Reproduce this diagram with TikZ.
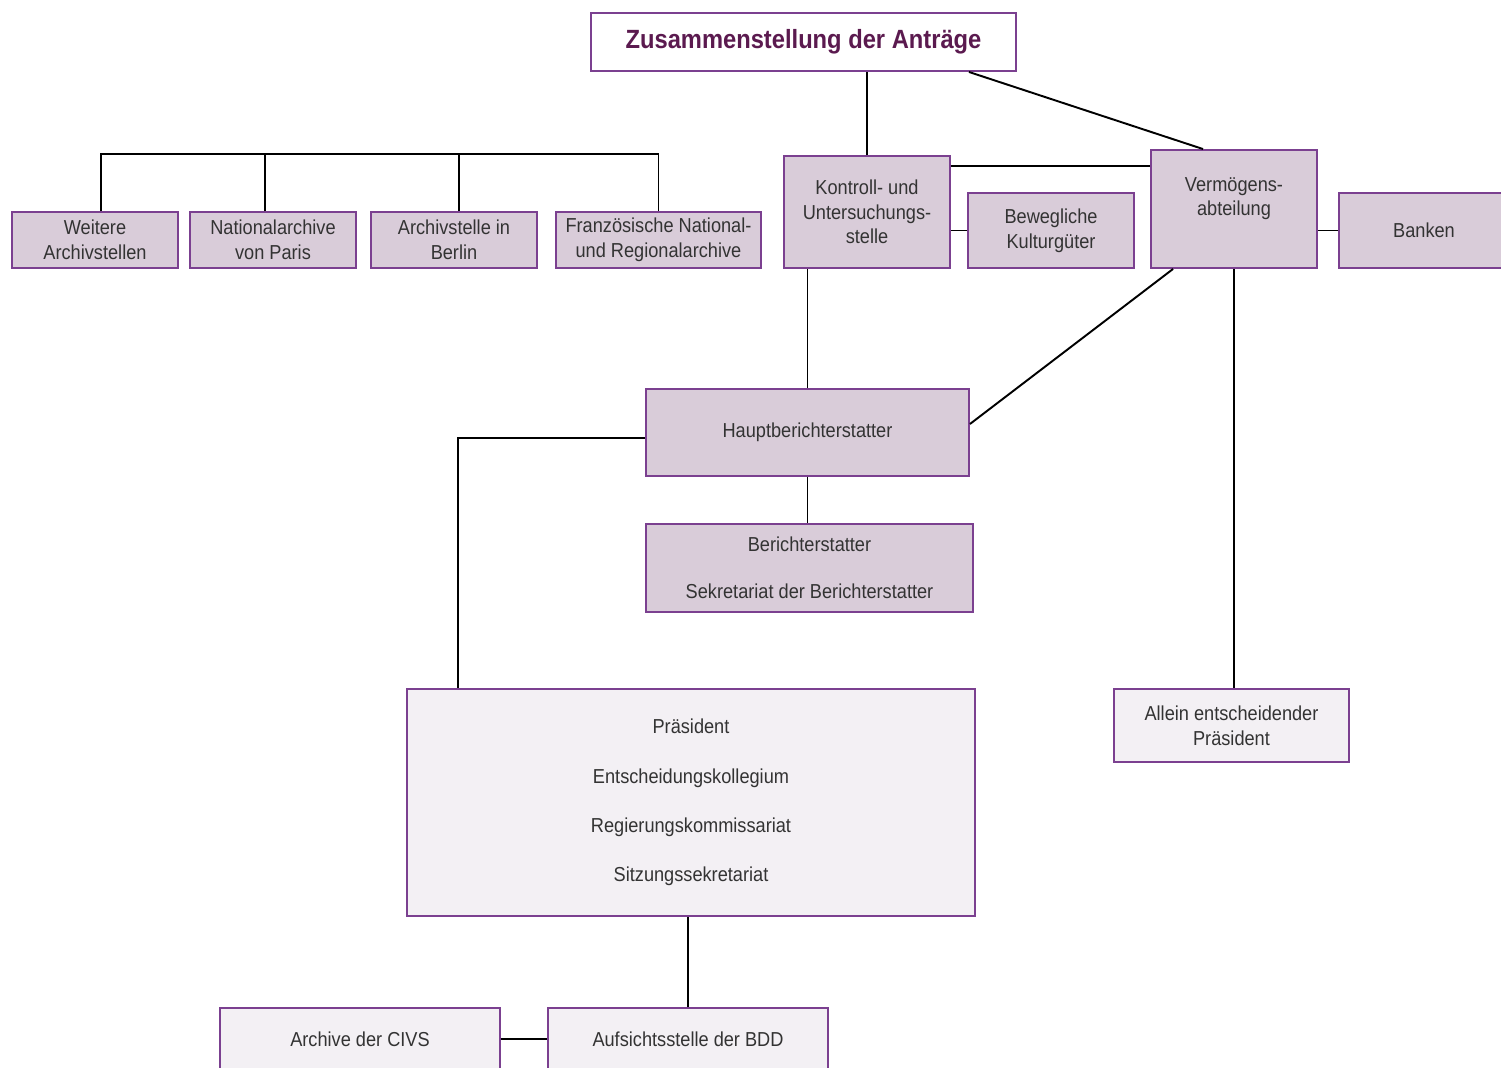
\documentclass[tikz,border=0pt]{standalone}
\usepackage{fontspec}
\setmainfont{Liberation Sans}[FakeStretch=0.9]
\definecolor{boxline}{HTML}{7B4090}
\definecolor{boxfill}{HTML}{D9CCD9}
\definecolor{boxlight}{HTML}{F3F0F4}
\definecolor{textgray}{HTML}{333333}
\definecolor{titlecol}{HTML}{5B1A4F}
\tikzset{
  org/.style={draw=boxline, line width=1.1pt, fill=boxfill, text=textgray,
    align=center, inner sep=2pt, font=\fontsize{11.5}{14}\selectfont},
  orglight/.style={org, fill=boxlight},
  link/.style={line width=1.1pt, black}
}
\begin{document}
\begin{tikzpicture}[x=0.02cm, y=-0.02cm]
      \useasboundingbox (0,0) rectangle (1501,1068);
      \clip (0,0) rectangle (1501,1068);
      \node[org, fill=white, text=titlecol, font=\fontsize{15}{18}\bfseries,
        minimum width=8.5cm, minimum height=1.16cm] (titel) at (803.5,42) {Zusammenstellung der Antr\"age};
      \node[org, minimum width=3.32cm, minimum height=1.12cm] (weitere) at (95,240) {Weitere\\Archivstellen};
      \node[org, minimum width=3.32cm, minimum height=1.12cm] (natarch) at (273,240) {Nationalarchive\\von Paris};
      \node[org, minimum width=3.32cm, minimum height=1.12cm] (berlin) at (454,240) {Archivstelle in\\Berlin};
      \node[org, minimum width=4.1cm, minimum height=1.12cm] (franz) at (658.5,240) {Franz\"osische National-\\und Regionalarchive};
      \node[org, minimum width=3.32cm, minimum height=2.24cm] (kontroll) at (867,212) {Kontroll- und\\Untersuchungs-\\stelle};
      \node[org, minimum width=3.32cm, minimum height=1.5cm] (bewegl) at (1051,230.5) {Bewegliche\\Kulturg\"uter};
      \node[org, minimum width=3.32cm, minimum height=2.36cm] (verm) at (1234,209) {Verm\"ogens-\\abteilung\\\mbox{}};
      \node[org, minimum width=3.4cm, minimum height=1.5cm] (banken) at (1424,230.5) {Banken};
      \node[org, minimum width=6.46cm, minimum height=1.74cm] (haupt) at (807.5,432.5) {Hauptberichterstatter};
      \node[org, minimum width=6.54cm, minimum height=1.76cm] (bericht) at (809.5,568) {Berichterstatter\\[13pt]Sekretariat der Berichterstatter};
      \node[orglight, minimum width=11.36cm, minimum height=4.54cm] (praes) at (691,802.5)
        {Pr\"asident\\[14pt]Entscheidungskollegium\\[14pt]Regierungskommissariat\\[14pt]Sitzungssekretariat};
      \node[orglight, minimum width=4.7cm, minimum height=1.46cm] (allein) at (1231.5,725.5) {Allein entscheidender\\Pr\"asident};
      \node[orglight, minimum width=5.6cm, minimum height=1.24cm] (civs) at (360,1039) {Archive der CIVS};
      \node[orglight, minimum width=5.6cm, minimum height=1.24cm] (aufsicht) at (688,1039) {Aufsichtsstelle der BDD};
      \coordinate (archbar) at (0,154);
      \coordinate (kv) at ([yshift=-0.22cm]kontroll.north east);
      \coordinate (pk) at ([xshift=1.04cm]praes.north west);
      \begin{scope}[link]
        \draw ([xshift=0.12cm]weitere.north) |- (franz.north |- archbar) -- (franz.north);
        \draw ([xshift=-0.16cm]natarch.north) -- ([xshift=-0.16cm]natarch.north |- archbar);
        \draw ([xshift=0.1cm]berlin.north) -- ([xshift=0.1cm]berlin.north |- archbar);
        \draw (kontroll.north) -- (kontroll.north |- titel.south);
        \draw ([xshift=-0.96cm]titel.south east) -- ([xshift=-0.62cm]verm.north);
        \draw (kv) -- (kv -| verm.west);
        \draw (bewegl.west) -- (bewegl.west -| kontroll.east);
        \draw (banken.west) -- (banken.west -| verm.east);
        \draw (haupt.north) -- (haupt.north |- kontroll.south);
        \draw ([xshift=0.46cm]verm.south west) -- ([yshift=0.17cm]haupt.east);
        \draw (verm.south) -- (verm.south |- allein.north);
        \draw ([yshift=-0.11cm]haupt.west) -| (pk);
        \draw (haupt.south) -- (haupt.south |- bericht.north);
        \draw (aufsicht.north) -- (aufsicht.north |- praes.south);
        \draw (civs.east) -- (aufsicht.west);
      \end{scope}
    \end{tikzpicture}
\end{document}
